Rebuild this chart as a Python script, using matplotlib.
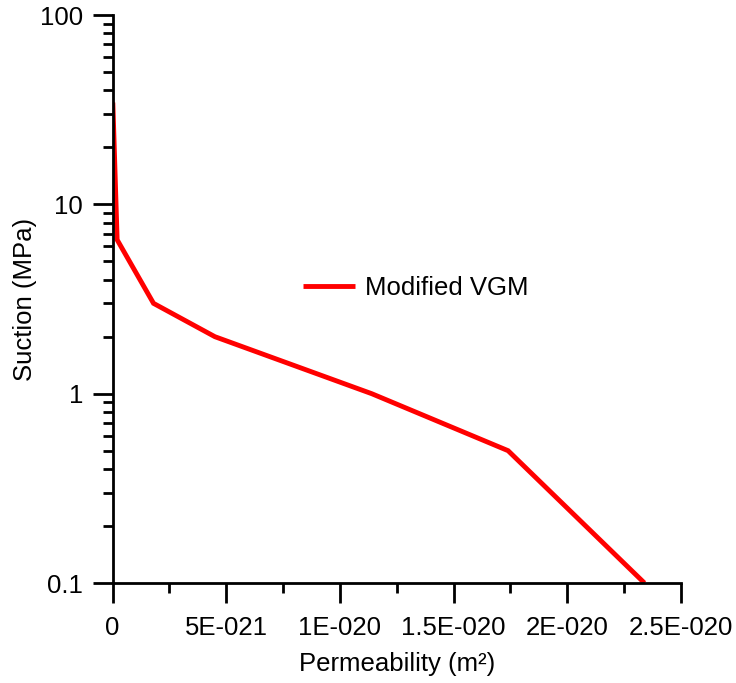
import matplotlib
matplotlib.use("Agg")
import matplotlib.pyplot as plt
from matplotlib.ticker import FixedLocator, FixedFormatter, LogLocator, NullFormatter

plt.rcParams['font.family'] = ['Liberation Sans', 'DejaVu Sans']

# Daten
permeability = [0.1e-22, 2.0e-22, 1.8e-21, 4.5e-21, 1.14e-20, 1.74e-20, 2.34e-20]
suction = [34.5, 6.5, 3.0, 2.0, 1.0, 0.5, 0.1]

x_ticks = [0, 5e-21, 1e-20, 1.5e-20, 2e-20, 2.5e-20]
x_ticklabels = ["0", "5E-021", "1E-020", "1.5E-020", "2E-020", "2.5E-020"]
x_minor = [2.5e-21, 7.5e-21, 1.25e-20, 1.75e-20, 2.25e-20]
y_ticks = [0.1, 1, 10, 100]
y_ticklabels = ["0.1", "1", "10", "100"]

fig = plt.figure(figsize=(7.36, 6.83), dpi=100)
ax = fig.add_axes([0.153, 0.1464, 0.772, 0.8316])

ax.plot(permeability, suction, color="#ff0000", linewidth=3.5, label="Modified VGM",
        solid_capstyle="butt", solid_joinstyle="miter")

ax.set_yscale("log")
ax.set_xlim(0, 2.5e-20)
ax.set_ylim(0.1, 100)

ax.xaxis.set_major_locator(FixedLocator(x_ticks))
ax.xaxis.set_major_formatter(FixedFormatter(x_ticklabels))
ax.xaxis.set_minor_locator(FixedLocator(x_minor))
ax.yaxis.set_major_locator(FixedLocator(y_ticks))
ax.yaxis.set_major_formatter(FixedFormatter(y_ticklabels))
ax.yaxis.set_minor_locator(LogLocator(base=10, subs=range(2, 10)))
ax.yaxis.set_minor_formatter(NullFormatter())

for s in ["top", "right"]:
    ax.spines[s].set_visible(False)
for s in ["left", "bottom"]:
    ax.spines[s].set_linewidth(2)

ax.tick_params(which="major", direction="out", length=14.4, width=2, labelsize=18.5, pad=7)
ax.tick_params(axis="x", which="major", pad=9)
ax.tick_params(which="minor", direction="out", length=7.2, width=2)

ax.set_xlabel("Permeability (m²)", fontsize=18.5, labelpad=9)
ax.set_ylabel("Suction (MPa)", fontsize=18.5, labelpad=2)

ax.legend(loc="center left", bbox_to_anchor=(0.295, 0.519), frameon=False,
          fontsize=18.5, handlelength=2, handletextpad=0.4)

plt.savefig("out.png", dpi=100)
